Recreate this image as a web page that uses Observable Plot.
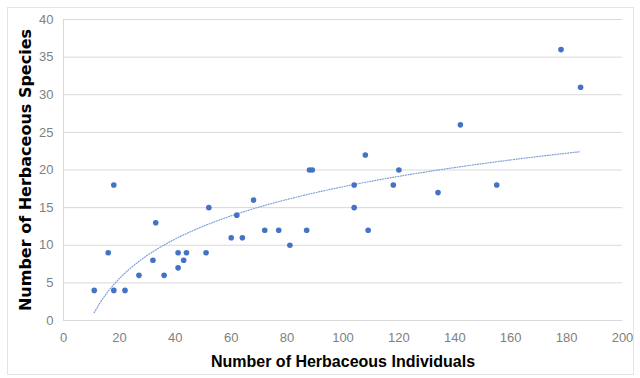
<!DOCTYPE html>
<html><head><meta charset="utf-8">
<script src="https://cdn.jsdelivr.net/npm/d3@7"></script>
<script src="https://cdn.jsdelivr.net/npm/@observablehq/plot@0.6"></script>
<style>
html,body{margin:0;padding:0;background:#fff;}
#wrap{position:relative;width:640px;height:378px;overflow:hidden;}
#frame{position:absolute;left:7px;top:7px;width:627px;height:368px;border:1px solid #e4e4e4;box-sizing:border-box;}
svg{position:absolute;left:0;top:0;}
</style>
</head><body>
<div id="wrap"><div id="frame"></div></div>
<script>
const individuals = [11,16,18,18,22,27,32,33,36,41,41,43,44,51,52,60,62,64,68,72,77,81,87,88,89,104,104,108,109,118,120,134,142,155,178,185];
const species     = [4, 9, 18,4, 4, 6, 8, 13,6, 7, 9, 8, 9, 9, 15,11,14,11,16,12,12,10,12,20,20,18,15,22,12,18,20,17,26,18,36,31];
const xTicks = [0,20,40,60,80,100,120,140,160,180,200];
const yTicks = [0,5,10,15,20,25,30,35,40];

const data = individuals.map((x,i)=>({x, y: species[i]}));

// logarithmic least-squares trendline (as in a spreadsheet trendline)
const lx = individuals.map(Math.log);
const mx = d3.mean(lx), my = d3.mean(species);
const slope = d3.sum(lx.map((v,i)=>(v-mx)*(species[i]-my))) / d3.sum(lx.map(v=>(v-mx)**2));
const icpt = my - slope*mx;
const [xmin,xmax] = d3.extent(individuals);
const trend = d3.range(0,101).map(i=>{const x = xmin + (xmax-xmin)*i/100; return {x, y: icpt + slope*Math.log(x)};});

const chart = Plot.plot({
  width: 640, height: 378,
  marginLeft: 63, marginRight: 18, marginTop: 19, marginBottom: 58,
  style: {fontFamily: "'Liberation Sans',sans-serif", fontSize: "13px", color: "#7f7f7f", background: "transparent"},
  x: {domain: [0,200], ticks: xTicks, tickSize: 0, tickPadding: 12, label: null},
  y: {domain: [0,40], ticks: yTicks, tickSize: 0, tickPadding: 10, label: null},
  marks: [
    Plot.ruleY(yTicks, {stroke: "#d9d9d9", strokeWidth: 1}),
    Plot.ruleX([0], {stroke: "#d9d9d9", strokeWidth: 1}),
    Plot.line(trend, {x: "x", y: "y", stroke: "#7ea1d8", strokeWidth: 1.2, strokeDasharray: "1,1.6"}),
    Plot.dot(data, {x: "x", y: "y", r: 2.8, fill: "#4472c4", stroke: "none"}),
    Plot.axisX({ticks: xTicks, tickSize: 0, tickPadding: 12, fill: "#7f7f7f"}),
    Plot.axisY({ticks: yTicks, tickSize: 0, tickPadding: 10, fill: "#7f7f7f"}),
    Plot.text(["Number of Herbaceous Individuals"], {frameAnchor: "bottom", dy: 46, fontSize: 16, fontWeight: "bold", fill: "#000", dx: 0}),
    Plot.text(["Number of Herbaceous Species"], {frameAnchor: "left", textAnchor: "middle", dx: -38, rotate: -90, fontSize: 16, fontWeight: "bold", fill: "#000", fontFamily: "'DejaVu Sans',sans-serif"})
  ]
});
document.getElementById("wrap").appendChild(chart);
</script>
</body></html>
